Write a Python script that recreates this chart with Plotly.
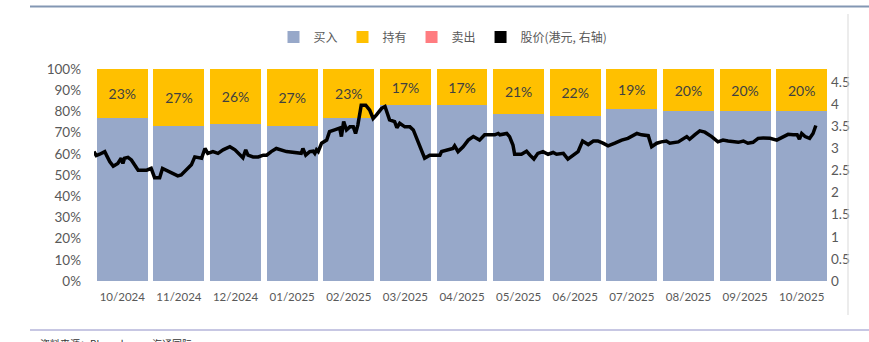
import plotly.graph_objects as go

# Monthly rating distribution (%)
months = ["10/2024", "11/2024", "12/2024", "01/2025", "02/2025", "03/2025", "04/2025",
          "05/2025", "06/2025", "07/2025", "08/2025", "09/2025", "10/2025"]
hold_pct = [23, 27, 26, 27, 23, 17, 17, 21, 22, 19, 20, 20, 20]
buy_pct = [77, 73, 74, 73, 77, 83, 83, 79, 78, 81, 80, 80, 80]
sell_pct = [0, 0, 0, 0, 0, 0, 0, 0, 0, 0, 0, 0, 0]

# Share price (HKD), time measured in months since the start of Oct 2024
price_t = [0.00, 0.04, 0.10, 0.19, 0.22, 0.28, 0.34, 0.42, 0.48, 0.51, 0.54, 0.60, 0.66,
           0.72, 0.78, 0.93, 1.01, 1.07, 1.16, 1.21, 1.28, 1.37, 1.48, 1.54, 1.63, 1.72,
           1.78, 1.90, 1.96, 2.01, 2.10, 2.19, 2.28, 2.40, 2.49, 2.57, 2.63, 2.68, 2.72,
           2.81, 2.90, 2.99, 3.05, 3.13, 3.22, 3.40, 3.58, 3.66, 3.69, 3.74, 3.81, 3.87,
           3.90, 3.93, 3.96, 4.02, 4.11, 4.16, 4.25, 4.34, 4.37, 4.41, 4.46, 4.52, 4.58,
           4.62, 4.66, 4.72, 4.80, 4.87, 4.93, 4.99, 5.08, 5.14, 5.22, 5.31, 5.35, 5.40,
           5.49, 5.58, 5.64, 5.72, 5.84, 5.93, 6.05, 6.11, 6.14, 6.23, 6.34, 6.37, 6.43,
           6.52, 6.61, 6.70, 6.81, 6.90, 6.96, 7.08, 7.14, 7.17, 7.29, 7.34, 7.40, 7.43,
           7.55, 7.64, 7.70, 7.77, 7.84, 7.93, 8.02, 8.11, 8.17, 8.29, 8.37, 8.46, 8.55,
           8.63, 8.73, 8.82, 8.90, 8.99, 9.08, 9.20, 9.32, 9.43, 9.55, 9.59, 9.67, 9.79,
           9.85, 9.94, 10.02, 10.11, 10.17, 10.26, 10.32, 10.47, 10.52, 10.61, 10.70,
           10.79, 10.91, 11.02, 11.11, 11.20, 11.29, 11.38, 11.47, 11.55, 11.64, 11.73,
           11.82, 11.94, 12.06, 12.14, 12.26, 12.35, 12.42, 12.46, 12.50, 12.56, 12.64,
           12.70, 12.75]
price = [2.93, 2.84, 2.87, 2.93, 2.85, 2.70, 2.60, 2.66, 2.78, 2.66, 2.78, 2.80, 2.74,
         2.64, 2.51, 2.51, 2.55, 2.34, 2.34, 2.55, 2.51, 2.44, 2.38, 2.40, 2.51, 2.63,
         2.81, 2.78, 3.00, 2.89, 2.93, 2.89, 2.97, 3.04, 2.97, 2.85, 2.79, 2.97, 2.85,
         2.81, 2.81, 2.85, 2.85, 2.93, 3.00, 2.93, 2.90, 2.89, 3.00, 2.85, 2.93, 2.94,
         2.89, 2.97, 2.93, 3.12, 3.19, 3.38, 3.42, 3.46, 3.27, 3.61, 3.42, 3.49, 3.49,
         3.34, 3.53, 3.98, 3.98, 3.87, 3.68, 3.76, 3.91, 3.95, 3.65, 3.61, 3.47, 3.57,
         3.49, 3.49, 3.42, 3.15, 2.78, 2.85, 2.85, 2.85, 2.93, 2.97, 3.00, 3.06, 2.93,
         3.04, 3.19, 3.27, 3.19, 3.31, 3.31, 3.31, 3.34, 3.31, 3.34, 3.27, 3.08, 2.87,
         2.87, 2.94, 2.85, 2.76, 2.89, 2.93, 2.87, 2.91, 2.87, 2.89, 2.76, 2.85, 2.93,
         3.17, 3.09, 3.17, 3.17, 3.12, 3.06, 3.12, 3.19, 3.23, 3.31, 3.34, 3.31, 3.29,
         3.04, 3.12, 3.15, 3.17, 3.12, 3.14, 3.15, 3.27, 3.21, 3.31, 3.40,
         3.37, 3.27, 3.15, 3.19, 3.17, 3.15, 3.14, 3.17, 3.12, 3.14, 3.23,
         3.24, 3.23, 3.19, 3.24, 3.32, 3.31, 3.31, 3.21, 3.34, 3.27, 3.23,
         3.34, 3.52]

legend_names = ["买入", "持有", "卖出", "股价(港元, 右轴)"]

BUY_COLOR = "#97A8C9"
HOLD_COLOR = "#FFC000"
SELL_COLOR = "#FF7C80"
AXIS_TEXT = "#595959"
LATIN_FONT = "Lato"
CJK_FONT = "Noto Sans CJK SC"

W, H = 869, 342
ML, MR, MT, MB = 94, 39, 69, 61
PW, PH = W - ML - MR, H - MT - MB


def px_x(x):
    return (x - ML) / PW


def px_y(y):
    return (H - MB - y) / PH


fig = go.Figure()
fig.add_trace(go.Bar(x=months, y=buy_pct, name=legend_names[0], marker_color=BUY_COLOR,
                     marker_line_width=0))
fig.add_trace(go.Bar(x=months, y=hold_pct, name=legend_names[1], marker_color=HOLD_COLOR,
                     marker_line_width=0, text=hold_pct, texttemplate="%{text}%",
                     textposition="inside", insidetextanchor="middle", textangle=0,
                     textfont=dict(family=LATIN_FONT, size=14, color="#404040")))
fig.add_trace(go.Bar(x=months, y=sell_pct, name=legend_names[2], marker_color=SELL_COLOR,
                     marker_line_width=0))
# legend key for the price series (square swatch)
fig.add_trace(go.Bar(x=months[:1], y=[0], name=legend_names[3], marker_color="#000000",
                     marker_line_width=0, legendgroup="price"))
fig.add_trace(go.Scatter(x=price_t, y=price, mode="lines", name=legend_names[3],
                         line=dict(color="#000000", width=3.5), xaxis="x2", yaxis="y2",
                         showlegend=False, legendgroup="price"))

fig.update_layout(
    width=W, height=H,
    margin=dict(l=ML, r=MR, t=MT, b=MB, pad=0),
    paper_bgcolor="white", plot_bgcolor="white",
    barmode="stack", bargap=0.1,
    font=dict(family=LATIN_FONT, color=AXIS_TEXT),
    xaxis=dict(type="category", range=[-0.5, len(months) - 0.5], showgrid=False,
               showline=False, zeroline=False, ticks="", ticklabelstandoff=7,
               tickfont=dict(size=11.5, color=AXIS_TEXT)),
    xaxis2=dict(overlaying="x", anchor="y", range=[0, len(months)], visible=False),
    yaxis=dict(range=[0, 100], dtick=10, tick0=0, ticksuffix="%", showgrid=False,
               zeroline=False, showline=False, ticks="", ticklabelstandoff=12,
               tickfont=dict(size=13.5, color=AXIS_TEXT)),
    yaxis2=dict(overlaying="y", anchor="x", side="right", range=[0, 4.8], dtick=0.5, tick0=0,
                showgrid=False, zeroline=False, showline=False, ticks="",
                tickfont=dict(size=13.5, color=AXIS_TEXT)),
    legend=dict(orientation="h", x=px_x(443), y=px_y(37), xanchor="center", yanchor="middle",
                font=dict(family=CJK_FONT, size=12, color=AXIS_TEXT), itemwidth=30,
                traceorder="normal", bgcolor="rgba(0,0,0,0)"),
    showlegend=True,
)

# frame lines around the exhibit
fig.add_shape(type="line", xref="paper", yref="paper", x0=px_x(30), x1=px_x(869),
              y0=px_y(6.5), y1=px_y(6.5), line=dict(color="#8397B3", width=2))
fig.add_shape(type="line", xref="paper", yref="paper", x0=px_x(30), x1=px_x(869),
              y0=px_y(330), y1=px_y(330), line=dict(color="#8F90C8", width=1.2))
fig.add_shape(type="line", xref="paper", yref="paper", x0=px_x(848), x1=px_x(848),
              y0=px_y(14), y1=px_y(315), line=dict(color="#D9D9D9", width=1))

fig.add_annotation(text="资料来源：Bloomberg，海通国际", xref="paper", yref="paper",
                   x=px_x(38), y=px_y(334), xanchor="left", yanchor="top", showarrow=False,
                   font=dict(family=CJK_FONT, size=10, color="#333333"))

fig.write_html("out.html")
